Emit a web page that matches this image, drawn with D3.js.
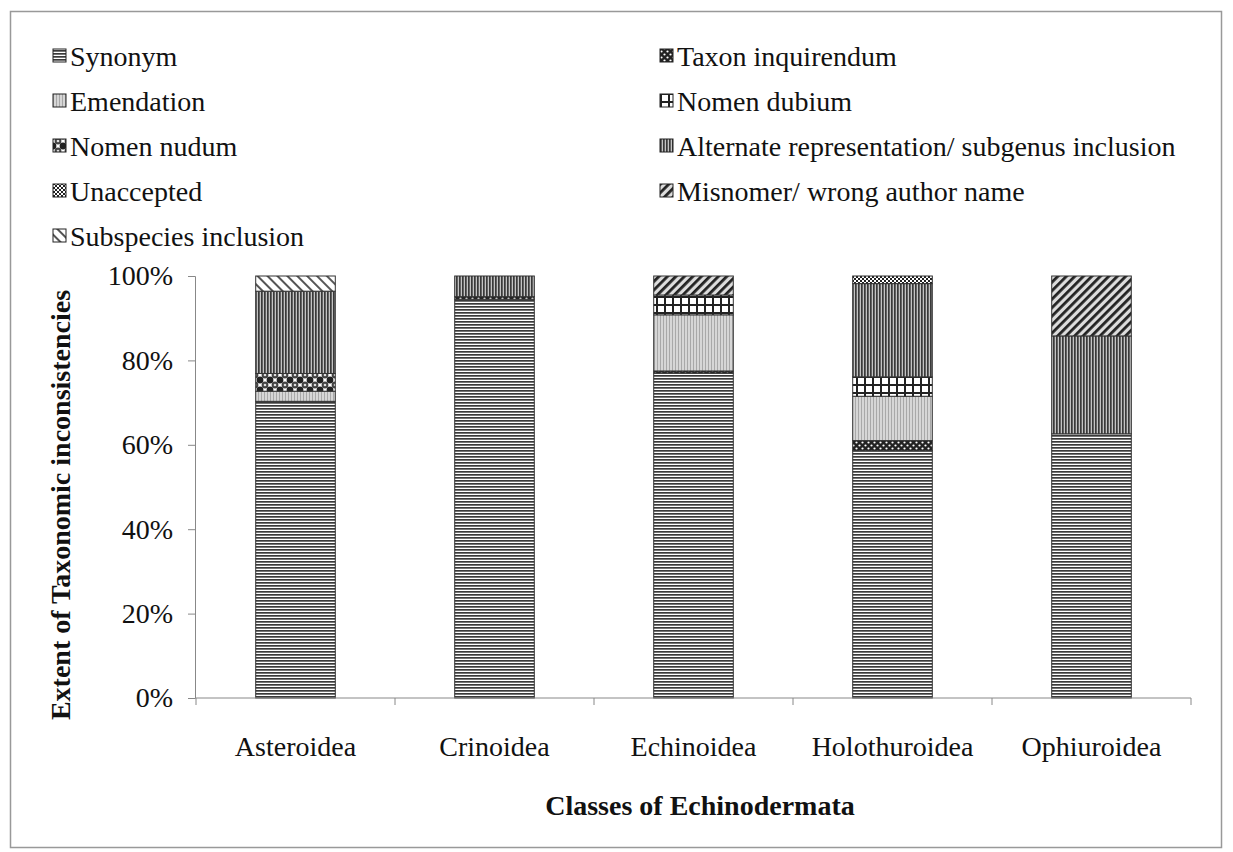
<!DOCTYPE html>
<html>
<head>
<meta charset="utf-8">
<script src="https://cdn.jsdelivr.net/npm/d3@7"></script>
<style>
  body { margin: 0; background: #fff; }
  text { font-family: "Liberation Serif", "Times New Roman", serif; fill: #111; }
</style>
</head>
<body>
<div id="chart"></div>
<script>
// classes along the x axis
const classes = ["Asteroidea", "Crinoidea", "Echinoidea", "Holothuroidea", "Ophiuroidea"];

// series, in stacking order (bottom first)
const seriesNames = ["Synonym", "Taxon inquirendum", "Emendation", "Nomen dubium", "Nomen nudum",
  "Alternate representation/ subgenus inclusion", "Unaccepted", "Misnomer/ wrong author name", "Subspecies inclusion"];
const seriesKeys = ["syn", "taxon", "emend", "dubium", "nudum", "alt", "unacc", "misn", "subsp"];

// percent values, one per class
const synonym      = [70.3, 94.5, 77.0, 58.6, 62.6];
const taxonInq     = [0,    0.6,  0.5,  2.4,  0];
const emendation   = [2.4,  0,    13.3, 10.5, 0];
const nomenDubium  = [0,    0,    4.7,  4.6,  0];
const nomenNudum   = [4.2,  0,    0,    0,    0];
const alternate    = [19.5, 4.9,  0,    22.1, 23.2];
const unaccepted   = [0,    0,    0,    1.8,  0];
const misnomer     = [0,    0,    4.5,  0,    14.2];
const subspecies   = [3.6,  0,    0,    0,    0];

const yTicks = [0, 20, 40, 60, 80, 100];

const seriesValues = [synonym, taxonInq, emendation, nomenDubium, nomenNudum, alternate, unaccepted, misnomer, subspecies];

const rows = classes.map((c, i) => {
  const r = { cls: c };
  seriesKeys.forEach((k, j) => { r[k] = seriesValues[j][i]; });
  return r;
});

const W = 1233, H = 852;
const serif = "Liberation Serif";
const svg = d3.select("#chart").append("svg").attr("width", W).attr("height", H);

// patterns
const defs = svg.append("defs");
function pat(id, w, h) {
  return defs.append("pattern").attr("id", id).attr("patternUnits", "userSpaceOnUse")
    .attr("width", w).attr("height", h);
}
let p;
p = pat("p-syn", 4, 3);
p.append("rect").attr("width", 4).attr("height", 3).attr("fill", "#fff");
p.append("rect").attr("width", 4).attr("height", 1.7).attr("fill", "#3a3a3a");

p = pat("p-taxon", 6, 6);
p.append("rect").attr("width", 6).attr("height", 6).attr("fill", "#222");
p.append("circle").attr("cx", 1.5).attr("cy", 1.5).attr("r", 1.1).attr("fill", "#fff");
p.append("circle").attr("cx", 4.5).attr("cy", 4.5).attr("r", 1.1).attr("fill", "#fff");

p = pat("p-emend", 3, 3);
p.append("rect").attr("width", 3).attr("height", 3).attr("fill", "#d6d6d6");
p.append("rect").attr("x", 0).attr("y", 0).attr("width", 1).attr("height", 3).attr("fill", "#a8a8a8");

p = pat("p-dubium", 8, 8);
p.append("rect").attr("width", 8).attr("height", 8).attr("fill", "#fff");
p.append("rect").attr("width", 8).attr("height", 2).attr("fill", "#222");
p.append("rect").attr("width", 2).attr("height", 8).attr("fill", "#222");

p = pat("p-nudum", 10, 10);
p.append("rect").attr("width", 10).attr("height", 10).attr("fill", "#fff");
[[0, 0], [10, 0], [0, 10], [10, 10]].forEach(c => {
  p.append("circle").attr("cx", c[0]).attr("cy", c[1]).attr("r", 3.4).attr("fill", "#222");
});
p.append("circle").attr("cx", 5).attr("cy", 5).attr("r", 3.4).attr("fill", "#444");
p.append("circle").attr("cx", 5).attr("cy", 5).attr("r", 1.3).attr("fill", "#ddd");

p = pat("p-alt", 3, 4);
p.append("rect").attr("width", 3).attr("height", 4).attr("fill", "#c4c4c4");
p.append("rect").attr("width", 1.7).attr("height", 4).attr("fill", "#3a3a3a");

p = pat("p-unacc", 4, 4);
p.append("rect").attr("width", 4).attr("height", 4).attr("fill", "#fff");
p.append("rect").attr("width", 2).attr("height", 2).attr("fill", "#222");
p.append("rect").attr("x", 2).attr("y", 2).attr("width", 2).attr("height", 2).attr("fill", "#222");

p = pat("p-misn", 6, 6).attr("patternTransform", "rotate(45)");
p.append("rect").attr("width", 6).attr("height", 6).attr("fill", "#ddd");
p.append("rect").attr("width", 2.8).attr("height", 6).attr("fill", "#222");

p = pat("p-subsp", 7, 7).attr("patternTransform", "rotate(-45)");
p.append("rect").attr("width", 7).attr("height", 7).attr("fill", "#fff");
p.append("rect").attr("width", 2).attr("height", 7).attr("fill", "#555");

// outer frame
svg.append("rect").attr("x", 10.5).attr("y", 11.5).attr("width", 1211).attr("height", 836)
  .attr("fill", "none").attr("stroke", "#999").attr("stroke-width", 1.5);

const x = d3.scaleBand().domain(classes).range([196, 1191]).paddingInner(0.6).paddingOuter(0.3);
const y = d3.scaleLinear().domain([0, 100]).range([698, 276]);

const stacked = d3.stack().keys(seriesKeys)(rows);

svg.append("g").selectAll("g").data(stacked).join("g")
  .attr("fill", d => "url(#p-" + d.key + ")")
  .selectAll("rect").data(d => d.filter(s => s[1] - s[0] > 0)).join("rect")
  .attr("x", d => x(d.data.cls))
  .attr("y", d => y(d[1]))
  .attr("width", x.bandwidth())
  .attr("height", d => y(d[0]) - y(d[1]))
  .attr("stroke", "#333").attr("stroke-width", 1);

// axes
const yAxis = svg.append("g").attr("transform", "translate(195,0)")
  .call(d3.axisLeft(y).tickValues(yTicks).tickSize(7).tickPadding(15).tickFormat(d => d + "%"));
yAxis.select(".domain").attr("stroke", "#888");
yAxis.selectAll("line").attr("stroke", "#888");
yAxis.selectAll("text").attr("font-size", 28).attr("font-family", serif).attr("fill", "#111");

const xAxis = svg.append("g").attr("transform", "translate(0,698)")
  .call(d3.axisBottom(x).tickSize(0).tickPadding(38));
xAxis.select(".domain").attr("stroke", "#888").attr("d", "M196,0H1191");
xAxis.selectAll("text").attr("font-size", 28).attr("font-family", serif).attr("fill", "#111");
// ticks between categories
const bounds = classes.map(c => x(c) - x.step() * x.paddingInner() / 2).concat([1191]);
bounds[0] = 196;
xAxis.append("g").selectAll("line").data(bounds).join("line")
  .attr("x1", d => d).attr("x2", d => d).attr("y1", 0).attr("y2", 7).attr("stroke", "#888");

// axis titles
svg.append("text").attr("x", 700).attr("y", 815).attr("text-anchor", "middle")
  .attr("font-family", serif).attr("font-size", 28).attr("font-weight", "bold")
  .text("Classes of Echinodermata");
svg.append("text").attr("transform", "translate(70,505) rotate(-90)").attr("text-anchor", "middle")
  .attr("font-family", serif).attr("font-size", 28).attr("font-weight", "bold")
  .text("Extent of Taxonomic inconsistencies");

// legend, two columns row by row
const legend = svg.append("g");
seriesKeys.forEach((k, i) => {
  const col = i % 2, row = Math.floor(i / 2);
  const lx = col === 0 ? 53 : 660;
  const ly = 56 + row * 45;
  const g = legend.append("g").attr("transform", `translate(${lx},${ly})`);
  g.append("rect").attr("x", 0).attr("y", -7).attr("width", 13).attr("height", 13)
    .attr("fill", "url(#p-" + k + ")").attr("stroke", "#222").attr("stroke-width", 1);
  g.append("text").attr("x", 17).attr("y", 0).attr("dy", "0.35em")
    .attr("font-family", serif).attr("font-size", 28).attr("fill", "#111")
    .text(seriesNames[i]);
});
</script>
</body>
</html>
